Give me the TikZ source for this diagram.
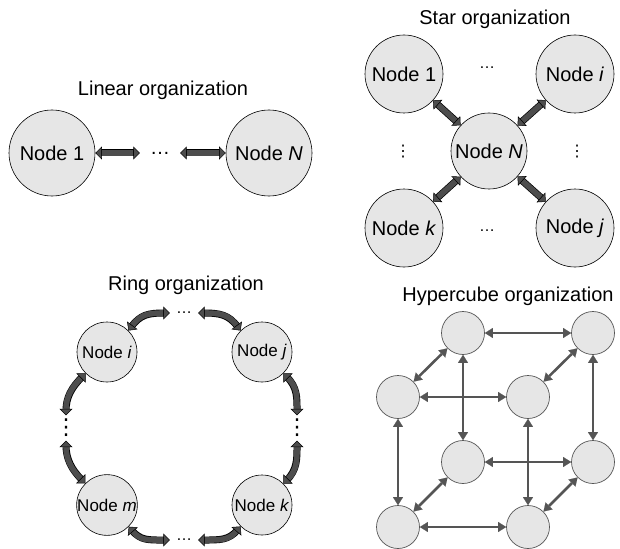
\documentclass[tikz,border=0pt]{standalone}
\usepackage{fontspec}
\setmainfont{Liberation Sans}
\newfontfamily\dotsfont{DejaVu Sans}
\usetikzlibrary{arrows.meta}

\definecolor{nodefill}{HTML}{E6E6E6}
\definecolor{arrowfill}{HTML}{4D4D4D}
\definecolor{cubeline}{HTML}{555555}

\begin{document}
\begin{tikzpicture}[x=1pt,y=-1pt,
  title/.style={font=\fontsize{20}{24}\selectfont},
  procnode/.style={circle,draw=black,line width=0.6pt,fill=nodefill,inner sep=0pt,
    minimum size=#1,font=\fontsize{20}{24}\selectfont},
  ringnode/.style={circle,draw=black,line width=0.6pt,fill=nodefill,inner sep=0pt,
    minimum size=60pt,font=\fontsize{17}{20}\selectfont},
  cubenode/.style={circle,draw=cubeline,line width=0.7pt,fill=nodefill,inner sep=0pt,
    minimum size=43pt},
  hdots/.style={inner sep=0pt,inner xsep=#1,font=\fontsize{16}{19}\selectfont},
  vdotsnode/.style={inner sep=0pt,minimum height=#1,font=\dotsfont\fontsize{16}{19}\selectfont},
  blockarrow/.style={line width=5.6pt,draw=arrowfill,
    arrows={Triangle[length=6.5pt,width=13pt,color=black,fill=arrowfill,line width=0.5pt]-Triangle[length=6.5pt,width=13pt,color=black,fill=arrowfill,line width=0.5pt]},
    preaction={draw=black,line width=7pt,arrows=-,shorten <=4.5pt,shorten >=4.5pt}},
  cubearrow/.style={line width=2.6pt,draw=cubeline,
    arrows={Triangle[length=8pt,width=10pt,fill=cubeline,line width=0.1pt]-Triangle[length=8pt,width=10pt,fill=cubeline,line width=0.1pt]}}
]
\useasboundingbox (0,0) rectangle (620,548);

% ---------------- linear ----------------
\node[title] (lintitle) at (163,90) {Linear organization};
\node[procnode=86pt] (l1) at (52,153) {Node 1};
\node[procnode=86pt] (lN) at (269,153) {Node \textit{N}};
\node[hdots=10pt,font=\fontsize{20}{24}\selectfont] (ldots) at (160,153) {…};
\draw[blockarrow] (l1) -- (ldots);
\draw[blockarrow] (ldots) -- (lN);

% ---------------- star ----------------
\node[title] (startitle) at (495,19) {Star organization};
\node[procnode=78pt] (s1) at (404,74) {Node 1};
\node[procnode=78pt] (si) at (575,74) {Node \textit{i}};
\node[procnode=76pt] (sN) at (489,151) {Node \textit{N}};
\node[procnode=78pt] (sk) at (404,228) {Node \textit{k}};
\node[procnode=78pt] (sj) at (575,228) {Node \textit{j}};
\node[hdots=0pt] (stdots) at (487,68) {…};
\node[hdots=0pt] (sbdots) at (487,231) {…};
\node[vdotsnode=0pt] (sldots) at (403,152) {⋮};
\node[vdotsnode=0pt] (srdots) at (577,152) {⋮};
\draw[blockarrow] (s1) -- (sN);
\draw[blockarrow] (si) -- (sN);
\draw[blockarrow] (sk) -- (sN);
\draw[blockarrow] (sj) -- (sN);

% ---------------- ring ----------------
\node[title] (ringtitle) at (186,285) {Ring organization};
\node[ringnode] (ri) at (107,352) {Node \textit{i}};
\node[ringnode] (rj) at (262,352) {Node \textit{j}};
\node[ringnode] (rm) at (107,505) {Node \textit{m}};
\node[ringnode] (rk) at (262,505) {Node \textit{k}};
\node[hdots=6pt] (rtdots) at (184,313) {…};
\node[hdots=6pt] (rbdots) at (184,540) {…};
\node[vdotsnode=25pt,font=\dotsfont\fontsize{22}{26}\selectfont] (rldots) at (66,428) {⋮};
\node[vdotsnode=25pt,font=\dotsfont\fontsize{22}{26}\selectfont] (rrdots) at (297,428) {⋮};
\draw[blockarrow] (ri.45) .. controls +(12,-16) and +(-22,0) .. (rtdots.west);
\draw[blockarrow] (rtdots.east) .. controls +(22,0) and +(-12,-16) .. (rj.135);
\draw[blockarrow] (ri.225) .. controls +(-14,14) and +(0,-18) .. (rldots.north);
\draw[blockarrow] (rldots.south) .. controls +(0,18) and +(-14,-14) .. (rm.135);
\draw[blockarrow] (rj.-45) .. controls +(14,14) and +(0,-18) .. (rrdots.north);
\draw[blockarrow] (rrdots.south) .. controls +(0,18) and +(14,-14) .. (rk.45);
\draw[blockarrow] (rm.-45) .. controls +(12,14) and +(-22,0) .. (rbdots.west);
\draw[blockarrow] (rbdots.east) .. controls +(22,0) and +(-12,14) .. (rk.-135);

% ---------------- hypercube ----------------
\node[title] (cubetitle) at (508,296) {Hypercube organization};
\node[cubenode] (btl) at (463,333) {};
\node[cubenode] (btr) at (593,333) {};
\node[cubenode] (ftl) at (398,397) {};
\node[cubenode] (ftr) at (528,397) {};
\node[cubenode] (bbl) at (463,462) {};
\node[cubenode] (bbr) at (593,462) {};
\node[cubenode] (fbl) at (398,527) {};
\node[cubenode] (fbr) at (528,527) {};
\draw[cubearrow] (btl) -- (btr);
\draw[cubearrow] (btl) -- (bbl);
\draw[cubearrow] (btr) -- (bbr);
\draw[cubearrow] (bbl) -- (bbr);
\draw[cubearrow] (ftl) -- (ftr);
\draw[cubearrow] (ftl) -- (fbl);
\draw[cubearrow] (ftr) -- (fbr);
\draw[cubearrow] (fbl) -- (fbr);
\draw[cubearrow] (ftl) -- (btl);
\draw[cubearrow] (ftr) -- (btr);
\draw[cubearrow] (fbl) -- (bbl);
\draw[cubearrow] (fbr) -- (bbr);
\end{tikzpicture}
\end{document}
